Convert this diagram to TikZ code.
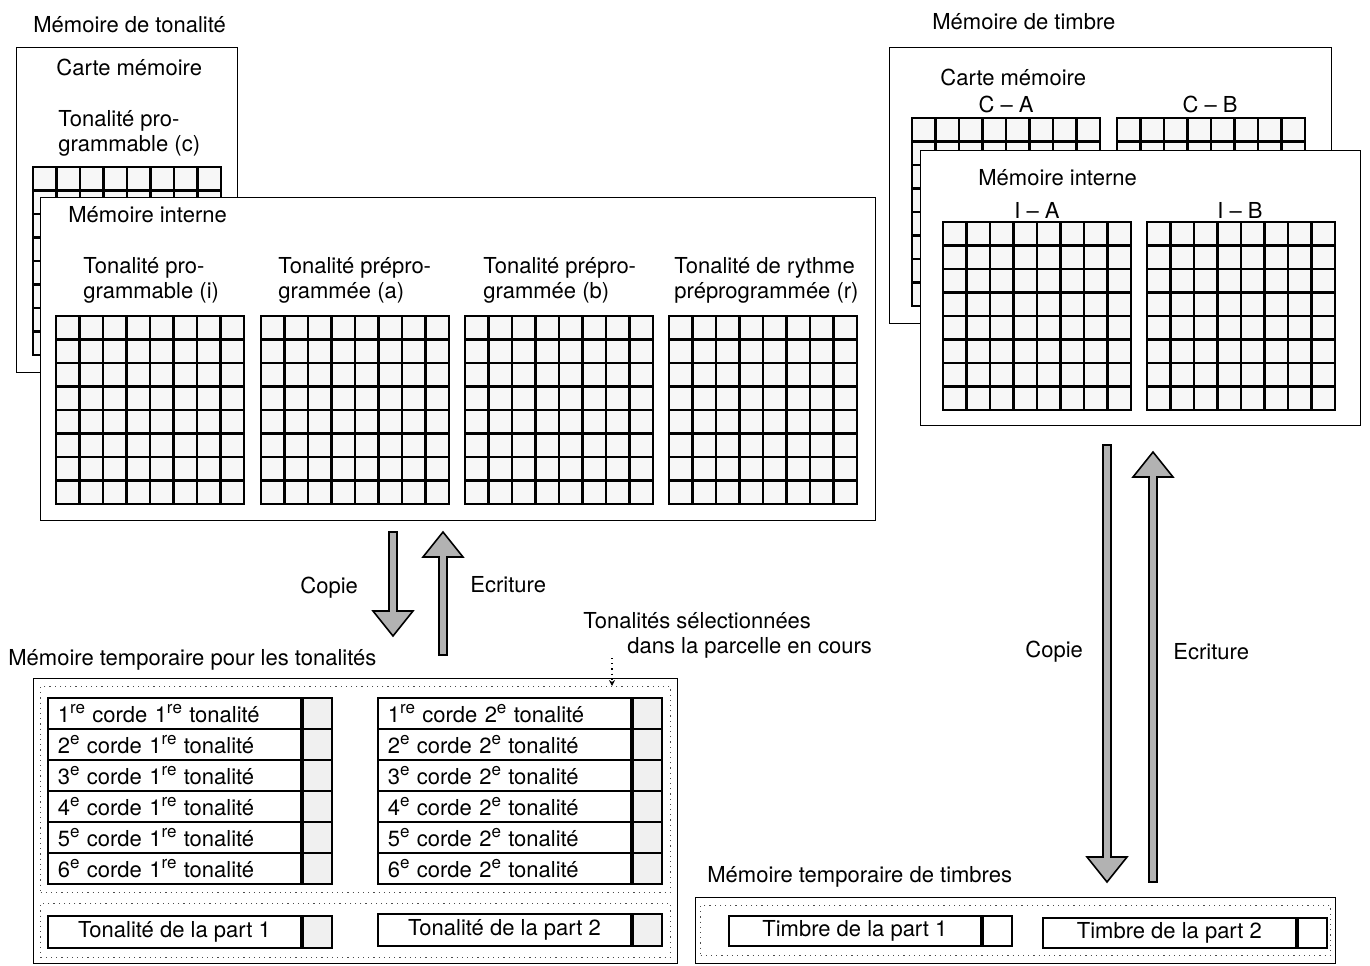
\documentclass[tikz,border=0pt]{standalone}
\usepackage{fontspec}
\setmainfont{TeX Gyre Heros}
\usetikzlibrary{positioning,calc,arrows.meta}

% 8 x 8 memory grid, top left corner at (#1,#2)
\newcommand{\memgrid}[2]{%
  \filldraw[fill=black!3, line width=1.1pt] (#1,#2) rectangle ++(188,188);
  \foreach \k in {1,...,7} {
    \draw[line width=1.1pt] ({#1+\k*23.5},#2) -- ++(0,188);
    \draw[line width=1.1pt] (#1,{#2+\k*23.5}) -- ++(188,0);
  }}
% ordinal suffix
\newcommand{\ordsup}[1]{\raisebox{0.75ex}{\fontsize{8.5}{8.5}\selectfont #1}}

\begin{document}
\begin{tikzpicture}[
  x=0.5pt, y=-0.5pt,
  font=\fontsize{11}{12.5}\selectfont,
  membox/.style={draw, fill=white, line width=0.6pt, anchor=north west, inner sep=0pt},
  selbox/.style={draw=black!70, dotted, line width=0.6pt, anchor=north west, inner sep=0pt},
  lbl/.style={anchor=west, inner sep=0pt},
  mlbl/.style={anchor=north west, align=left, inner sep=0pt},
  rowcell/.style={draw, line width=0.9pt, anchor=north west, inner xsep=5pt, inner ysep=0pt,
    text width=116.5pt, align=left, minimum height=15.5pt},
  partcell/.style={draw, line width=0.9pt, anchor=north west, inner sep=0pt,
    minimum width=126.5pt, minimum height=16pt},
  flagcell/.style={draw, line width=0.9pt, fill=gray!12, inner sep=0pt,
    minimum width=14.5pt, minimum height=15.5pt},
  arrdown/.style={draw, fill=gray!60, line width=0.8pt,
    to path={($(\tikztostart)+(-4,0)$) -- ($(\tikztotarget)+(-4,-25)$)
      -- ($(\tikztotarget)+(-20,-25)$) -- (\tikztotarget) -- ($(\tikztotarget)+(20,-25)$)
      -- ($(\tikztotarget)+(4,-25)$) -- ($(\tikztostart)+(4,0)$) -- cycle}},
  arrup/.style={draw, fill=gray!60, line width=0.8pt,
    to path={($(\tikztostart)+(-4,0)$) -- ($(\tikztotarget)+(-4,25)$)
      -- ($(\tikztotarget)+(-20,25)$) -- (\tikztotarget) -- ($(\tikztotarget)+(20,25)$)
      -- ($(\tikztotarget)+(4,25)$) -- ($(\tikztostart)+(4,0)$) -- cycle}}
]
\useasboundingbox (0,0) rectangle (1370,965);

% tone memory
\node[lbl] (tonT) at (33,25) {Mémoire de tonalité};
\node[membox, minimum width=110.5pt, minimum height=162.5pt] (carteT) at (16,47) {};
\node[lbl] at (56,67) {Carte mémoire};
\node[mlbl] at (58,110) {Tonalité pro-\\grammable (c)};
\memgrid{33}{167}
\node[membox, minimum width=417.5pt, minimum height=161.5pt] (intT) at (40,197) {};
\node[lbl] at (68,215) {Mémoire interne};
\node[mlbl] at (83,257) {Tonalité pro-\\grammable (i)};
\node[mlbl] at (278,257) {Tonalité prépro-\\grammée (a)};
\node[mlbl] at (483,257) {Tonalité prépro-\\grammée (b)};
\node[mlbl] at (674,257) {Tonalité de rythme\\préprogrammée (r)};
\memgrid{56}{316}
\memgrid{261}{316}
\memgrid{465}{316}
\memgrid{669}{316}

% timbre memory
\node[lbl] (timB) at (932,22) {Mémoire de timbre};
\node[membox, minimum width=221pt, minimum height=138pt] (carteB) at (889,47) {};
\node[lbl] at (940,77) {Carte mémoire};
\node at (1006,104) {C -- A};
\node at (1210,104) {C -- B};
\memgrid{912}{118}
\memgrid{1117}{118}
\node[membox, minimum width=220pt, minimum height=137.5pt] (intB) at (920,150) {};
\node[lbl] at (978,178) {Mémoire interne};
\node at (1037,210) {I -- A};
\node at (1240,210) {I -- B};
\memgrid{943}{222}
\memgrid{1147}{222}

% copy / write
\coordinate (cpT1) at (393,532);
\coordinate (cpT2) at (393,636);
\coordinate (wrT1) at (443,655);
\coordinate (wrT2) at (443,532);
\draw[arrdown] (cpT1) to (cpT2);
\draw[arrup] (wrT1) to (wrT2);
\node[lbl] at (300,588) {Copie};
\node[lbl] at (470,585) {Ecriture};

\coordinate (cpB1) at (1107,445);
\coordinate (cpB2) at (1107,882);
\coordinate (wrB1) at (1153,882);
\coordinate (wrB2) at (1153,452);
\draw[arrdown] (cpB1) to (cpB2);
\draw[arrup] (wrB1) to (wrB2);
\node[lbl] at (1025,652) {Copie};
\node[lbl] at (1173,652) {Ecriture};

% temporary tone memory
\node[lbl] (tmpTl) at (8,660) {Mémoire temporaire pour les tonalités};
\node[membox, minimum width=322pt, minimum height=142.5pt] (tempT) at (33,678) {};
\node[selbox, minimum width=315pt, minimum height=103pt] (selT) at (40,686) {};
\node[selbox, minimum width=315pt, minimum height=27pt] (partT) at (40,903) {};
\foreach \i/\s in {1/re,2/e,3/e,4/e,5/e,6/e} {
  \node[rowcell] (l\i) at (47,{697+(\i-1)*31}) {\i\ordsup{\s} corde 1\ordsup{re} tonalité};
  \node[flagcell, right=0pt of l\i] (lf\i) {};
  \node[rowcell] (r\i) at (377,{697+(\i-1)*31}) {\i\ordsup{\s} corde 2\ordsup{e} tonalité};
  \node[flagcell, right=0pt of r\i] (rf\i) {};
}
\node[partcell] (pt1) at (47,915) {Tonalité de la part 1};
\node[flagcell, minimum height=16pt, right=0pt of pt1] (pf1) {};
\node[partcell] (pt2) at (377,913) {Tonalité de la part 2};
\node[flagcell, minimum height=16pt, right=0pt of pt2] (pf2) {};

% selected tones note
\node[lbl] (seln1) at (583,621) {Tonalités sélectionnées};
\node[lbl] (seln2) at (627,648) {dans la parcelle en cours};
\coordinate (lead) at (612,658);
\draw[dotted, line width=0.6pt, -{Stealth[length=3pt, width=3pt]}] (lead) -- (lead |- selT.north);

% temporary timbre memory
\node[lbl] (tmpBl) at (707,877) {Mémoire temporaire de timbres};
\node[membox, minimum width=320pt, minimum height=33pt] (tempB) at (695,897) {};
\node[selbox, minimum width=315pt, minimum height=25pt] (selB) at (700,905) {};
\node[partcell, minimum width=126pt, minimum height=15pt] (tb1) at (728,915) {Timbre de la part 1};
\node[flagcell, fill=white, minimum height=15pt, right=0pt of tb1] (tf1) {};
\node[partcell, minimum width=126.5pt, minimum height=15pt] (tb2) at (1042,917) {Timbre de la part 2};
\node[flagcell, fill=white, minimum height=15pt, right=0pt of tb2] (tf2) {};
\end{tikzpicture}
\end{document}
